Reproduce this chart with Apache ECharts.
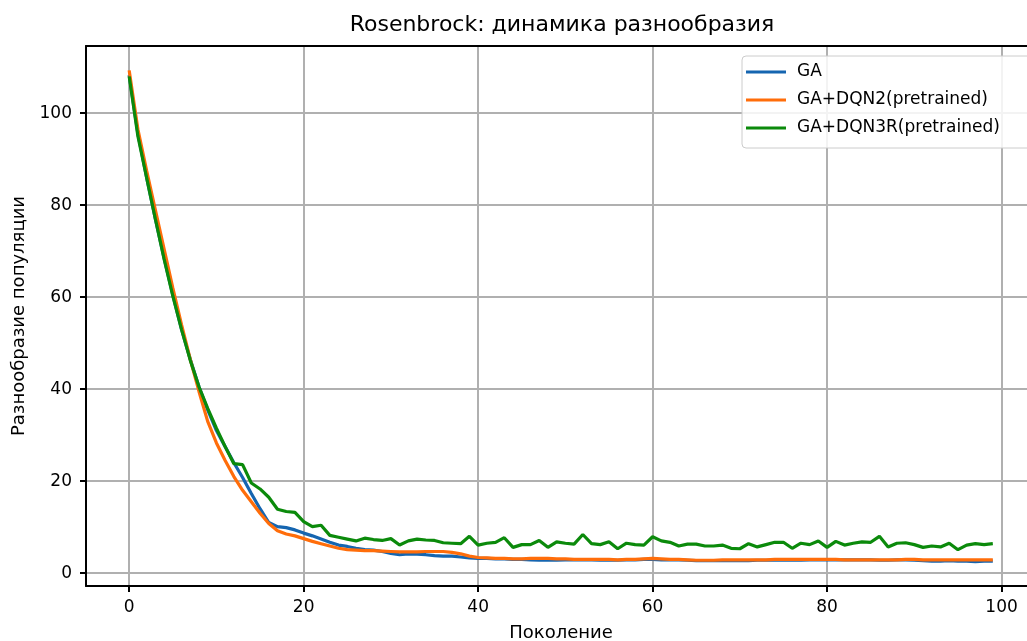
<!DOCTYPE html>
<html>
<head>
<meta charset="utf-8">
<script src="https://cdn.jsdelivr.net/npm/echarts@6/dist/echarts.min.js"></script>
<style>
html,body{margin:0;padding:0;background:#fff;}
#chart{width:1027px;height:641px;}
</style>
</head>
<body>
<div id="chart"></div>
<script>
const chartTitle = 'Rosenbrock: динамика разнообразия';
const xName = 'Поколение';
const yName = 'Разнообразие популяции';
const seriesNames = ['GA', 'GA+DQN2(pretrained)', 'GA+DQN3R(pretrained)'];
const xTicks = [0, 20, 40, 60, 80, 100];
const yTicks = [0, 20, 40, 60, 80, 100];

const gaValues = [
  108.3, 95.5, 86.0, 77.0, 68.5, 60.5, 53.0, 46.5, 40.5, 35.5,
  31.0, 27.5, 24.0, 20.8, 17.3, 14.0, 11.0, 10.1, 9.9, 9.4,
  8.7, 8.1, 7.4, 6.7, 6.1, 5.8, 5.4, 5.1, 5.0, 4.7,
  4.3, 4.0, 4.2, 4.1, 4.0, 3.8, 3.7, 3.7, 3.5, 3.3,
  3.2, 3.2, 3.1, 3.1, 3.0, 3.0, 2.9, 2.8, 2.8, 2.8,
  2.9, 2.9, 2.9, 2.9, 2.8, 2.8, 2.8, 2.9, 2.9, 3.0,
  3.0, 2.9, 2.9, 2.9, 2.8, 2.7, 2.7, 2.7, 2.7, 2.7,
  2.7, 2.7, 2.8, 2.8, 2.8, 2.8, 2.8, 2.8, 2.9, 2.9,
  2.9, 2.9, 2.9, 2.9, 2.9, 2.9, 2.8, 2.8, 2.9, 2.9,
  2.8, 2.7, 2.6, 2.6, 2.7, 2.6, 2.6, 2.5, 2.6, 2.6
];
const dqn2Values = [
  109.3, 96.5, 87.5, 79.0, 70.5, 62.0, 54.0, 46.5, 39.5, 33.0,
  28.3, 24.5, 21.0, 18.0, 15.5, 13.0, 10.8, 9.2, 8.5, 8.1,
  7.5, 6.9, 6.4, 5.9, 5.4, 5.1, 5.0, 4.9, 4.9, 4.8,
  4.7, 4.6, 4.6, 4.6, 4.7, 4.7, 4.7, 4.5, 4.2, 3.7,
  3.4, 3.3, 3.2, 3.2, 3.1, 3.1, 3.2, 3.2, 3.2, 3.1,
  3.1, 3.0, 3.0, 3.0, 3.0, 3.0, 2.9, 3.0, 3.0, 3.1,
  3.2, 3.1, 3.0, 3.0, 2.9, 2.8, 2.8, 2.8, 2.9, 2.9,
  2.9, 2.9, 2.9, 2.9, 3.0, 3.0, 3.0, 3.0, 3.0, 3.0,
  3.0, 3.0, 2.9, 2.9, 2.9, 2.9, 2.9, 2.9, 2.9, 3.0,
  3.0, 2.9, 2.9, 2.9, 2.9, 2.9, 2.9, 2.9, 2.9, 2.9
];
const dqn3rValues = [
  108.0, 95.0, 86.0, 77.0, 68.3, 60.3, 53.0, 46.3, 40.5, 35.8,
  31.5, 27.5, 23.8, 23.6, 19.6, 18.3, 16.5, 13.9, 13.4, 13.2,
  11.2, 10.1, 10.4, 8.2, 7.8, 7.4, 7.0, 7.6, 7.3, 7.1,
  7.5, 6.1, 7.0, 7.4, 7.2, 7.1, 6.6, 6.5, 6.4, 8.0,
  6.1, 6.5, 6.7, 7.7, 5.6, 6.2, 6.2, 7.1, 5.6, 6.8,
  6.5, 6.3, 8.4, 6.4, 6.2, 6.8, 5.3, 6.5, 6.2, 6.1,
  7.9, 7.0, 6.7, 5.9, 6.3, 6.3, 5.9, 5.9, 6.1, 5.4,
  5.3, 6.4, 5.7, 6.2, 6.7, 6.7, 5.4, 6.5, 6.2, 7.0,
  5.6, 6.9, 6.1, 6.5, 6.8, 6.7, 8.0, 5.7, 6.5, 6.6,
  6.2, 5.6, 5.9, 5.7, 6.5, 5.1, 6.1, 6.4, 6.2, 6.4
];

const FONT = 'DejaVu Sans';
const colors = ['#1565b0', '#ff6d0a', '#0b8a0b'];

function toPairs(arr) { return arr.map((v, i) => [i, v]); }
const allValues = [gaValues, dqn2Values, dqn3rValues];

const chart = echarts.init(document.getElementById('chart'), null, {renderer: 'canvas'});
const option = {
  animation: false,
  backgroundColor: '#ffffff',
  color: colors,
  graphic: [{
    type: 'text', x: 562, y: 25,
    style: {text: chartTitle, font: '22px "DejaVu Sans"', fill: '#000', textAlign: 'center', textVerticalAlign: 'middle'}
  }],
  grid: {left: 86, top: 46, bottom: 55, right: -9, containLabel: false, outerBoundsMode: 'none'},
  legend: {
    orient: 'vertical', left: 742, top: 56,
    padding: [6, 40, 10, 4], itemGap: 8, itemWidth: 40, itemHeight: 3,
    icon: 'rect',
    backgroundColor: 'rgba(255,255,255,0.85)', borderColor: '#cccccc', borderWidth: 1, borderRadius: 4,
    textStyle: {fontFamily: FONT, fontSize: 17, color: '#000', lineHeight: 20, padding: [0, 0, 0, 6]},
    data: seriesNames
  },
  xAxis: [{
    type: 'value', min: -4.95, max: 103.95, splitNumber: 5,
    name: xName, nameLocation: 'middle', nameGap: 38,
    nameTextStyle: {fontFamily: FONT, fontSize: 18, color: '#000'},
    axisLine: {show: true, onZero: false, lineStyle: {color: '#000', width: 2}},
    axisTick: {show: true, inside: false, length: 6, lineStyle: {color: '#000', width: 2}, customValues: xTicks},
    axisLabel: {fontFamily: FONT, fontSize: 17, color: '#000', margin: 13, customValues: xTicks},
    splitLine: {show: true, lineStyle: {color: '#b0b0b0', width: 2}}
  }, {
    type: 'value', min: -4.95, max: 103.95, position: 'top',
    axisLine: {show: true, onZero: false, lineStyle: {color: '#000', width: 2}},
    axisTick: {show: false}, axisLabel: {show: false}, splitLine: {show: false}
  }],
  yAxis: [{
    type: 'value', min: -2.8, max: 114.6, splitNumber: 5,
    name: yName, nameLocation: 'middle', nameGap: 58, nameRotate: 90,
    nameTextStyle: {fontFamily: FONT, fontSize: 18, color: '#000'},
    axisLine: {show: true, onZero: false, lineStyle: {color: '#000', width: 2}},
    axisTick: {show: true, inside: false, length: 6, lineStyle: {color: '#000', width: 2}, customValues: yTicks},
    axisLabel: {fontFamily: FONT, fontSize: 17, color: '#000', margin: 14, customValues: yTicks},
    splitLine: {show: true, lineStyle: {color: '#b0b0b0', width: 2}}
  }],
  series: seriesNames.map((name, k) => ({
    name: name, type: 'line', xAxisIndex: 0, yAxisIndex: 0,
    data: toPairs(allValues[k]),
    showSymbol: false, symbol: 'none',
    lineStyle: {width: 3.2, color: colors[k]},
    itemStyle: {color: colors[k]},
    z: 3 + k
  }))
};
chart.setOption(option);
</script>
</body>
</html>
